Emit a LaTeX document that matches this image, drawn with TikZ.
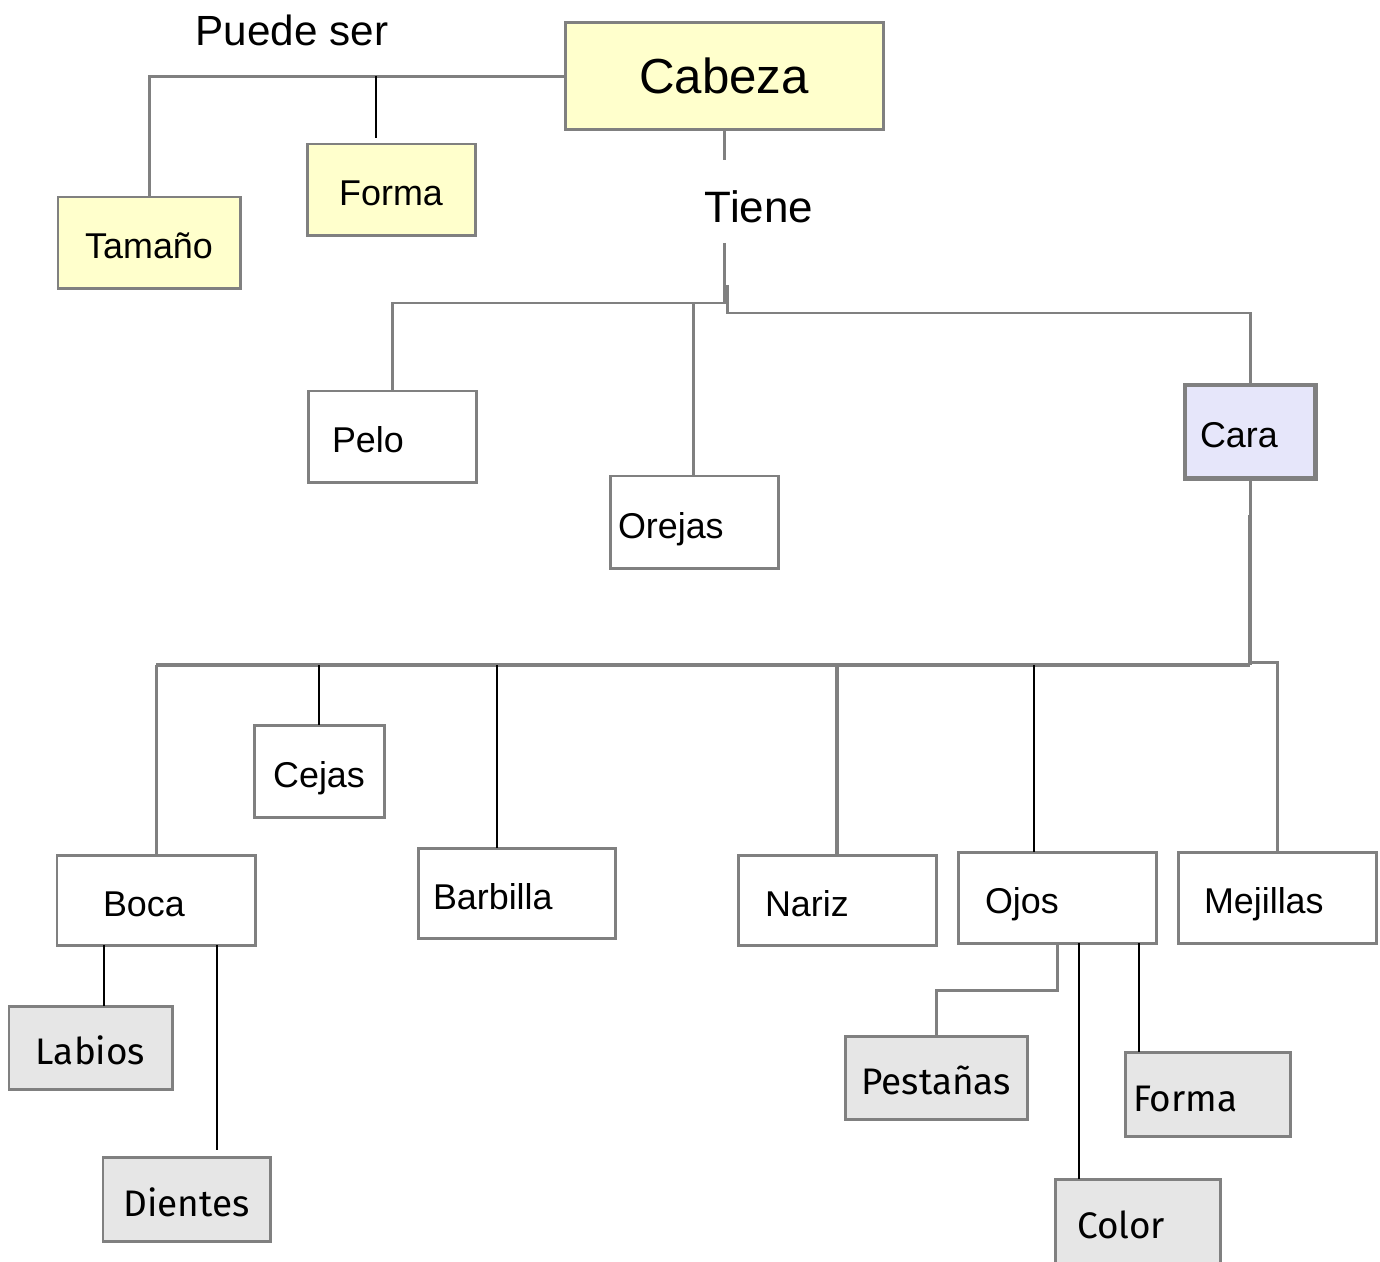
\documentclass[tikz,border=0pt]{standalone}
\usepackage{fontspec}
\setmainfont{Liberation Sans}
\newfontfamily\comicfont{Fira Sans}
\usepackage{xcolor}
\usepackage{tikz}
\usetikzlibrary{positioning}
\definecolor{cabezafill}{HTML}{FFFFCC}
\definecolor{carafill}{HTML}{E6E6FA}
\definecolor{partfill}{HTML}{E6E6E6}
\definecolor{boxgray}{HTML}{808080}
\newcommand{\boxfont}{\fontsize{10.2}{12}\selectfont}
\newcommand{\partfont}{\comicfont\fontsize{10.5}{12}\selectfont}
\tikzstyle{yellowbox} = [rectangle, anchor=north west, outer sep=0pt, draw=boxgray, line width=0.85pt, fill=cabezafill, font=\boxfont, text height=0.32cm, text depth=0pt]
\tikzstyle{whitebox} = [rectangle, anchor=north west, outer sep=0pt, draw=boxgray, line width=0.85pt, fill=white, align=left, font=\boxfont, text height=0.32cm, text depth=0pt]
\tikzstyle{carabox} = [rectangle, anchor=north west, outer sep=0pt, draw=boxgray, line width=1.4pt, fill=carafill, align=left, font=\boxfont, text height=0.32cm, text depth=0pt]
\tikzstyle{greybox} = [rectangle, anchor=north west, outer sep=0pt, draw=boxgray, line width=0.85pt, fill=partfill, align=left, font=\partfont, text height=0.34cm, text depth=0pt]
\tikzstyle{gline} = [draw=boxgray, line width=0.85pt]
\tikzstyle{bline} = [draw=black, line width=0.7pt]

\begin{document}
\begin{tikzpicture}[x=0.01cm, y=-0.01cm]
	\useasboundingbox (0,0) rectangle (1380,1261);
	
	\node (cabeza) [yellowbox, minimum width=3.18cm, minimum height=1.06cm, font=\fontsize{14}{16}\selectfont, text height=0.35cm] at (565,23) {Cabeza};
	\node (puede) [font=\fontsize{12}{14}\selectfont] at (292,30) {Puede ser};
	\node (tamano) [yellowbox, minimum width=1.82cm, minimum height=0.91cm] at (58,197) {Tamaño};
	\node (formacab) [yellowbox, minimum width=1.68cm, minimum height=0.91cm] at (307,144) {Forma};
	\node (tiene) [font=\fontsize{12.5}{15}\selectfont] at (759,207) {Tiene};
	
	\node (pelo) [whitebox, text width=1.2cm, inner xsep=0.24cm, minimum height=0.91cm] at (308,391) {Pelo};
	\node (orejas) [whitebox, text width=1.52cm, inner xsep=0.08cm, minimum height=0.92cm] at (610,476) {Orejas};
	\node (cara) [carabox, text width=1.0cm, inner xsep=0.15cm, minimum height=0.93cm] at (1185,385) {Cara};
	
	\node (cejas) [whitebox, align=center, minimum width=1.3cm, minimum height=0.92cm] at (254,725) {Cejas};
	\node (boca) [whitebox, text width=1.06cm, inner xsep=0.46cm, minimum height=0.9cm] at (57,855) {Boca};
	\node (barbilla) [whitebox, text width=1.67cm, inner xsep=0.15cm, minimum height=0.9cm] at (418,848) {Barbilla};
	\node (nariz) [whitebox, text width=1.44cm, inner xsep=0.27cm, minimum height=0.9cm] at (738,855) {Nariz};
	\node (ojos) [whitebox, text width=1.44cm, inner xsep=0.27cm, minimum height=0.91cm] at (958,852) {Ojos};
	\node (mejillas) [whitebox, text width=1.46cm, inner xsep=0.26cm, minimum height=0.91cm] at (1178,852) {Mejillas};
	
	\node (labios) [greybox, align=center, minimum width=1.63cm, minimum height=0.83cm] at (9,1006) {Labios};
	\node (dientes) [greybox, align=center, minimum width=1.67cm, minimum height=0.84cm] at (103,1157) {Dientes};
	\node (pestanas) [greybox, align=center, minimum width=1.82cm, minimum height=0.83cm] at (845,1036) {Pestañas};
	\node (formaojos) [greybox, text width=1.49cm, inner xsep=0.08cm, minimum height=0.84cm] at (1125,1052) {Forma};
	\node (color) [greybox, text width=1.21cm, inner xsep=0.22cm, minimum height=0.84cm] at (1055,1179) {Color};
	
	% puede ser
	\coordinate (formajoin) at (376,76);
	\draw [gline] (cabeza.west) -| (tamano.north);
	\draw [bline, shorten >=0.06cm] (formajoin) -- (formajoin |- formacab.north);
	
	% tiene
	\coordinate (tienetop) at (724,160);
	\coordinate (tienebot) at (724,243);
	\coordinate (tienejoin) at (724,303);
	\coordinate (orejasjoin) at (693,303);
	\coordinate (carajoin) at (727,285);
	\coordinate (carabend) at (727,313);
	\draw [gline] (cabeza.south) -- (cabeza.south |- tienetop);
	\draw [gline] (tienebot) -- (tienejoin) -| (pelo.north);
	\draw [gline] (orejasjoin) -- (orejasjoin |- orejas.north);
	\draw [gline] (carajoin) -- (carabend) -| (cara.north);
	
	% cara
	\coordinate (carathick) at (1250,515);
	\coordinate (carabus) at (1250,665);
	\coordinate (mejjoin) at (1250,662);
	\coordinate (barbjoin) at (497,665);
	\coordinate (ojosjoin) at (1034,665);
	\draw [gline] (cara.south) -- (cara.south |- carathick);
	\draw [gline, line width=1.3pt] (carathick) -- (carabus);
	\draw [gline, line width=1.1pt] (carabus) -- (boca.north |- carabus);
	\draw [gline] (boca.north |- carabus) -- (boca.north);
	\draw [gline] (mejjoin) -| (mejillas.north);
	\draw [gline, line width=1.1pt] (nariz.north |- carabus) -- (nariz.north);
	\draw [bline] (cejas.north |- carabus) -- (cejas.north);
	\draw [bline] (barbjoin) -- (barbjoin |- barbilla.north);
	\draw [bline] (ojosjoin) -- (ojosjoin |- ojos.north);
	
	% boca
	\coordinate (bocaleft) at (104,945);
	\coordinate (bocaright) at (217,945);
	\draw [bline] (bocaleft) -- (bocaleft |- labios.north);
	\draw [bline, shorten >=0.07cm] (bocaright) -- (bocaright |- dientes.north);
	
	% ojos
	\coordinate (ojosbend) at (1057,990);
	\coordinate (ojoscolor) at (1079,943);
	\coordinate (ojosforma) at (1139,943);
	\draw [gline] (ojos.south) -- (ojos.south |- ojosbend) -| (pestanas.north);
	\draw [bline] (ojoscolor) -- (ojoscolor |- color.north);
	\draw [bline] (ojosforma) -- (ojosforma |- formaojos.north);
	
\end{tikzpicture}
\end{document}
